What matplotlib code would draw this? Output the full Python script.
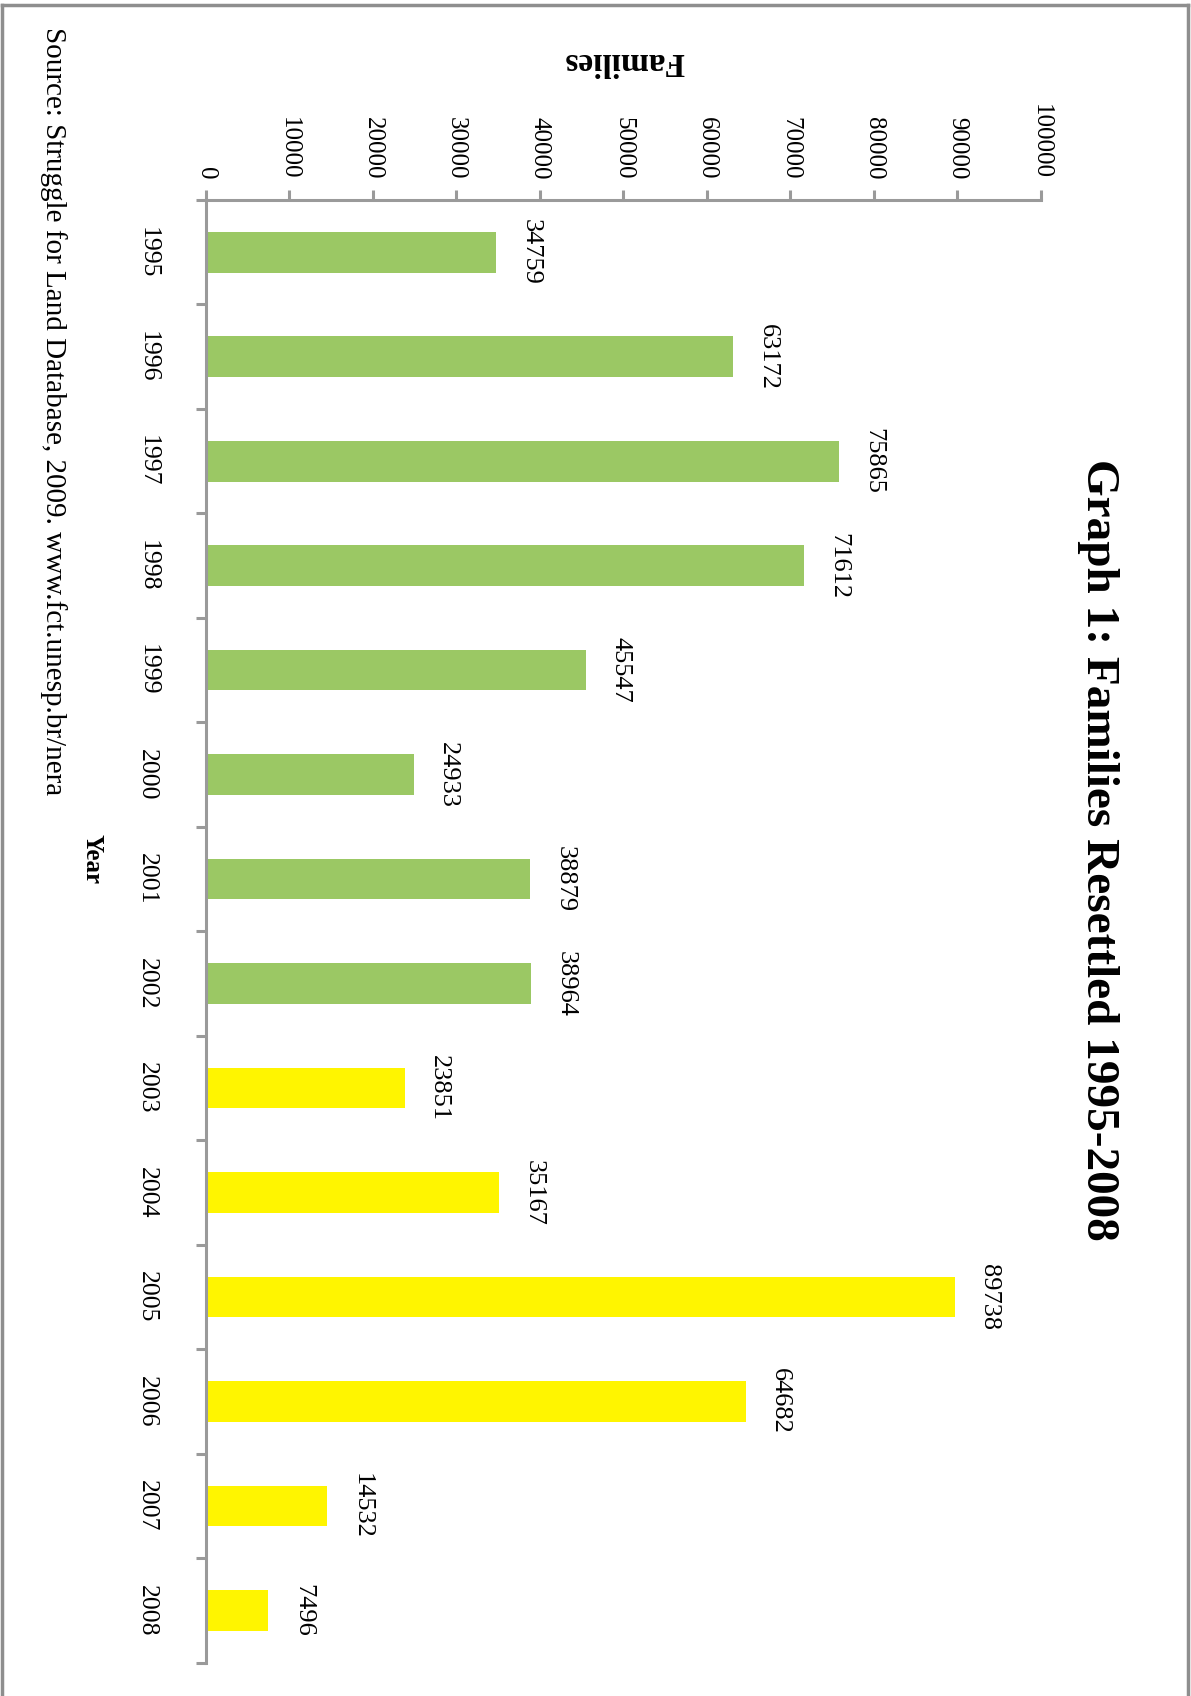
# coding: UTF-8
import numpy as np
import matplotlib
matplotlib.use('Agg')
import matplotlib.pyplot as plt
from matplotlib.lines import Line2D

plt.rcParams['font.family'] = ['Liberation Serif', 'DejaVu Serif']

years = ['1995', '1996', '1997', '1998', '1999', '2000', '2001',
         '2002', '2003', '2004', '2005', '2006', '2007', '2008']
families = [34759, 63172, 75865, 71612, 45547, 24933, 38879,
            38964, 23851, 35167, 89738, 64682, 14532, 7496]
bar_colors = ['#9BC864'] * 8 + ['#FFF500'] * 6
value_ticks = np.arange(0, 100001, 10000)

axis_gray = '#9A9A9A'

fig = plt.figure(figsize=(11.91, 16.96), dpi=100)
ax = fig.add_axes([0.1726, 0.0197, 0.7011, 0.8624])

pos = np.arange(len(years))
ax.barh(pos, families, height=0.39, color=bar_colors)

for i, v in enumerate(families):
    ax.annotate(str(v), xy=(v, i), xytext=(17, 0), textcoords='offset points',
                rotation=-90, ha='left', va='center', fontsize=19)

ax.set_xlim(0, 100000)
ax.set_ylim(len(years) - 0.5, -0.5)

# value axis on top
ax.xaxis.tick_top()
ax.set_xticks(value_ticks)
ax.set_xticklabels([str(t) for t in value_ticks], rotation=-90, fontsize=18)
ax.tick_params(axis='x', direction='out', length=7, width=2.2, color=axis_gray, pad=8)

# category axis on the left
ax.set_yticks(pos)
ax.set_yticklabels(years, rotation=-90, fontsize=18.5, va='center')
ax.set_yticks(np.arange(len(years) + 1) - 0.5, minor=True)
ax.tick_params(axis='y', which='major', length=0, pad=34)
ax.tick_params(axis='y', which='minor', direction='out', length=7, width=2.2, color=axis_gray)

for side in ['right', 'bottom']:
    ax.spines[side].set_visible(False)
for side in ['top', 'left']:
    ax.spines[side].set_color(axis_gray)
    ax.spines[side].set_linewidth(2.2)

fig.text(0.922, 0.499, 'Graph 1: Families Resettled 1995-2008', rotation=-90,
         ha='center', va='center', fontsize=34, fontweight='bold')
fig.text(0.524, 0.9635, 'Families', rotation=180, ha='center', va='center',
         fontsize=24, fontweight='bold')
fig.text(0.077, 0.4935, 'Year', rotation=-90, ha='center', va='center',
         fontsize=18, fontweight='bold')
fig.text(0.045, 0.984, 'Source: Struggle for Land Database, 2009. www.fct.unesp.br/nera',
         rotation=-90, ha='center', va='top', fontsize=21)

# outer frame (runs off the bottom edge)
frame_gray = '#8E8E8E'
fig.add_artist(Line2D([0.0015, 0.0015], [0.0, 0.997], transform=fig.transFigure, color=frame_gray, lw=2.5))
fig.add_artist(Line2D([0.0015, 0.9975], [0.997, 0.997], transform=fig.transFigure, color=frame_gray, lw=2.5))
fig.add_artist(Line2D([0.9975, 0.9975], [0.0, 0.997], transform=fig.transFigure, color=frame_gray, lw=2.5))

fig.savefig('out.png', dpi=100)
